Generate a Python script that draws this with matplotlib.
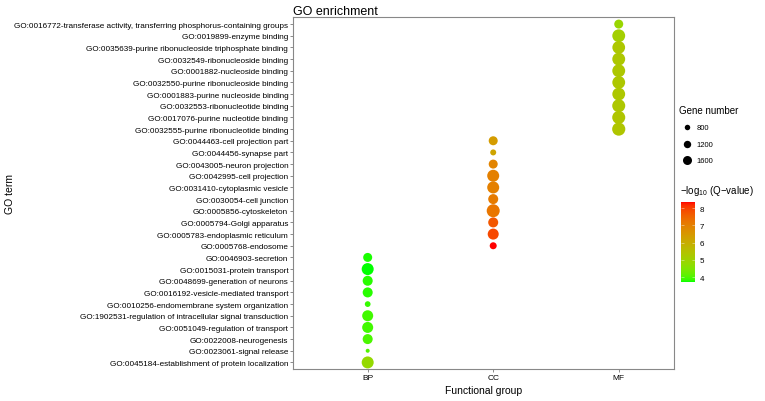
import matplotlib
matplotlib.use('Agg')
import matplotlib.pyplot as plt
from matplotlib.colors import ListedColormap
import numpy as np

plt.rcParams['font.family'] = ['Liberation Sans', 'DejaVu Sans']
plt.rcParams['mathtext.fontset'] = 'custom'
plt.rcParams['mathtext.rm'] = 'Liberation Sans'
plt.rcParams['mathtext.it'] = 'Liberation Sans:italic'

# terms, top to bottom
terms = [
    'GO:0016772-transferase activity, transferring phosphorus-containing groups',
    'GO:0019899-enzyme binding',
    'GO:0035639-purine ribonucleoside triphosphate binding',
    'GO:0032549-ribonucleoside binding',
    'GO:0001882-nucleoside binding',
    'GO:0032550-purine ribonucleoside binding',
    'GO:0001883-purine nucleoside binding',
    'GO:0032553-ribonucleotide binding',
    'GO:0017076-purine nucleotide binding',
    'GO:0032555-purine ribonucleotide binding',
    'GO:0044463-cell projection part',
    'GO:0044456-synapse part',
    'GO:0043005-neuron projection',
    'GO:0042995-cell projection',
    'GO:0031410-cytoplasmic vesicle',
    'GO:0030054-cell junction',
    'GO:0005856-cytoskeleton',
    'GO:0005794-Golgi apparatus',
    'GO:0005783-endoplasmic reticulum',
    'GO:0005768-endosome',
    'GO:0046903-secretion',
    'GO:0015031-protein transport',
    'GO:0048699-generation of neurons',
    'GO:0016192-vesicle-mediated transport',
    'GO:0010256-endomembrane system organization',
    'GO:1902531-regulation of intracellular signal transduction',
    'GO:0051049-regulation of transport',
    'GO:0022008-neurogenesis',
    'GO:0023061-signal release',
    'GO:0045184-establishment of protein localization',
]
groups = ['MF'] * 10 + ['CC'] * 10 + ['BP'] * 10
gene_num = [1600, 2800, 2750, 2800, 2800, 2780, 2780, 2850, 2850, 2900,
            1600, 900, 1600, 2500, 2500, 1880, 2844, 1880, 2180, 1110,
            1600, 2500, 1880, 1880, 850, 2180, 2180, 1880, 544, 2500]
neg_log_q = [4.9, 5.1, 5.3, 5.3, 5.3, 5.3, 5.3, 5.3, 5.35, 5.35,
             6.4, 6.2, 6.9, 7.0, 7.0, 7.1, 7.2, 7.7, 7.9, 8.35,
             3.75, 3.71, 3.8, 3.8, 3.85, 3.9, 3.9, 3.95, 4.0, 4.8]
group_order = ['BP', 'CC', 'MF']
legend_sizes = [800, 1200, 1600]


# green -> red gradient interpolated in Lab space
def srgb_to_lab(rgb):
    rgb = np.asarray(rgb, dtype=float)
    c = np.where(rgb <= 0.04045, rgb / 12.92, ((rgb + 0.055) / 1.055) ** 2.4)
    M = np.array([[0.4124, 0.3576, 0.1805], [0.2126, 0.7152, 0.0722], [0.0193, 0.1192, 0.9505]])
    xyz = M @ c / np.array([0.95047, 1.0, 1.08883])
    f = np.where(xyz > 0.008856, np.cbrt(xyz), 7.787 * xyz + 16 / 116)
    return np.array([116 * f[1] - 16, 500 * (f[0] - f[1]), 200 * (f[1] - f[2])])


def lab_to_srgb(lab):
    L, a, b = lab
    fy = (L + 16) / 116
    fx = fy + a / 500
    fz = fy - b / 200
    f = np.array([fx, fy, fz])
    xyz = np.where(f ** 3 > 0.008856, f ** 3, (f - 16 / 116) / 7.787) * np.array([0.95047, 1.0, 1.08883])
    Minv = np.array([[3.2406, -1.5372, -0.4986], [-0.9689, 1.8758, 0.0415], [0.0557, -0.2040, 1.0570]])
    c = np.clip(Minv @ xyz, 0, 1)
    return np.where(c <= 0.0031308, 12.92 * c, 1.055 * c ** (1 / 2.4) - 0.055).clip(0, 1)


lo, hi = srgb_to_lab([0, 1, 0]), srgb_to_lab([1, 0, 0])
cmap = ListedColormap([lab_to_srgb(lo + t * (hi - lo)) for t in np.linspace(0, 1, 256)])

DPI = 100


def dot_size(n):
    # pixel diameter from gene count, returned as scatter area in pt^2
    d_px = 0.3 * np.sqrt(np.asarray(n, dtype=float)) - 3
    return (d_px * 72 / DPI) ** 2


fig = plt.figure(figsize=(7.65, 4.02), dpi=DPI)
ax = fig.add_axes([0.383, 0.080, 0.498, 0.875])

ypos = np.arange(len(terms), 0, -1)
xpos = [group_order.index(g) + 1 for g in groups]
sc = ax.scatter(xpos, ypos, s=dot_size(gene_num), c=neg_log_q, cmap=cmap,
                vmin=min(neg_log_q), vmax=max(neg_log_q), linewidths=0, zorder=3)

ax.set_xlim(0.405, 3.44)
ax.set_ylim(0.45, len(terms) + 0.6)
ax.set_xticks([1, 2, 3])
ax.set_xticklabels(group_order, fontsize=6)
ax.set_yticks(ypos)
ax.set_yticklabels(terms, fontsize=5.9)
ax.tick_params(length=2, width=0.6, color='#777777', pad=1.5)
for s in ax.spines.values():
    s.set_color('#888888')
    s.set_linewidth(0.8)
ax.set_xlabel('Functional group', fontsize=7.5, labelpad=3)
ax.set_ylabel('GO term', fontsize=7.5)
ax.yaxis.set_label_coords(-0.73, 0.5, transform=ax.transAxes)
ax.set_title('GO enrichment', fontsize=9, loc='left', pad=2)

# size legend
handles = [ax.scatter([], [], s=dot_size(v), color='black', linewidths=0) for v in legend_sizes]
leg = fig.legend(handles, [str(v) for v in legend_sizes], title='Gene number',
                 loc='upper left', bbox_to_anchor=(0.884, 0.745), frameon=False,
                 fontsize=5.5, title_fontsize=7, handletextpad=0.3,
                 labelspacing=1.2, borderaxespad=0)
leg._legend_box.align = 'left'

# colour bar
cax = fig.add_axes([0.890, 0.296, 0.019, 0.199])
cb = fig.colorbar(sc, cax=cax)
cb.outline.set_visible(False)
cb.set_ticks([4, 5, 6, 7, 8])
cax.tick_params(labelsize=5.8, direction='in', color=(1, 1, 1, 0.55), length=2, width=0.5,
                left=True, right=True, pad=3)
fig.text(0.889, 0.508, r'$-\mathrm{log}_{10}$ (Q$-$value)', fontsize=7, va='bottom')

fig.savefig('out.png', dpi=DPI)
